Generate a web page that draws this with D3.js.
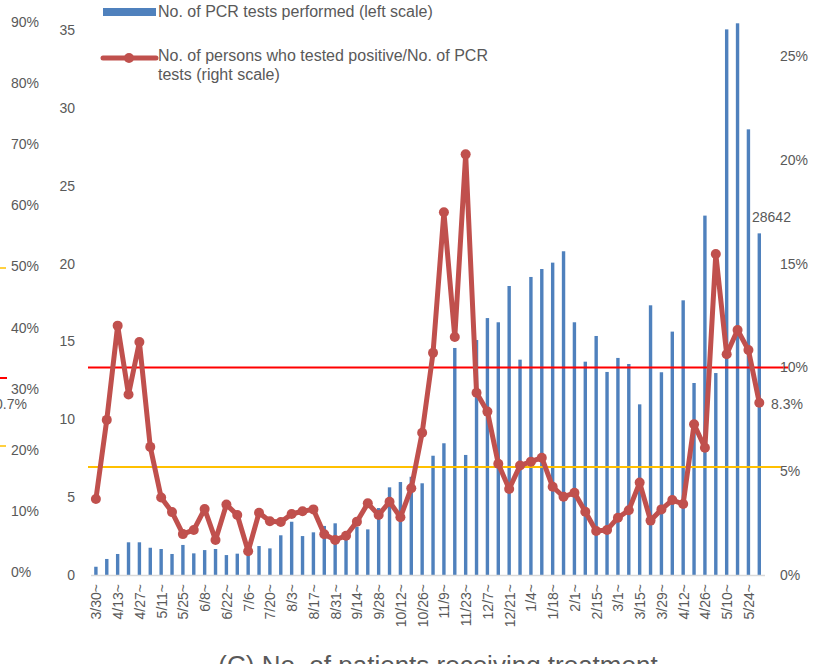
<!DOCTYPE html>
<html>
<head>
<meta charset="utf-8">
<script src="https://cdn.jsdelivr.net/npm/d3@7"></script>
<style>
  body { margin: 0; background: #fff; }
  svg { display: block; font-family: "Liberation Sans", Arial, sans-serif; }
</style>
</head>
<body>
<svg id="chart" width="813" height="664"></svg>
<script>
// weekly periods (week starting)
const weeks = ['3/30', '4/6', '4/13', '4/20', '4/27', '5/4', '5/11', '5/18', '5/25', '6/1',
  '6/8', '6/15', '6/22', '6/29', '7/6', '7/13', '7/20', '7/27', '8/3', '8/10',
  '8/17', '8/24', '8/31', '9/7', '9/14', '9/21', '9/28', '10/5', '10/12', '10/19',
  '10/26', '11/2', '11/9', '11/16', '11/23', '11/30', '12/7', '12/14', '12/21', '12/28',
  '1/4', '1/11', '1/18', '1/25', '2/1', '2/8', '2/15', '2/22', '3/1', '3/8',
  '3/15', '3/22', '3/29', '4/5', '4/12', '4/19', '4/26', '5/3', '5/10', '5/17',
  '5/24', '5/31'];

// PCR tests performed (thousands, left scale)
const tests = [0.53, 1.03, 1.35, 2.1, 2.1, 1.75, 1.67, 1.35, 1.93, 1.39,
  1.6, 1.67, 1.28, 1.37, 1.6, 1.86, 1.71, 2.55, 3.42, 2.5,
  2.74, 3.15, 3.32, 2.8, 3.1, 2.93, 4.3, 5.63, 5.97, 6.31,
  5.89, 7.66, 8.46, 14.58, 7.71, 15.09, 16.5, 16.23, 18.56, 13.83,
  19.14, 19.65, 20.06, 20.79, 16.23, 13.7, 15.35, 13.04, 13.94, 13.55,
  10.96, 17.32, 13.02, 15.63, 17.64, 12.33, 23.08, 12.97, 35.04, 35.43,
  28.62, 21.94];

// positives / PCR tests (right scale)
const positiveRate = [3.66, 7.47, 12.01, 8.69, 11.22, 6.17, 3.73, 3.03, 1.97, 2.17,
  3.18, 1.69, 3.39, 2.89, 1.14, 3.0, 2.59, 2.55, 2.94, 3.07,
  3.16, 1.96, 1.69, 1.89, 2.57, 3.45, 2.89, 3.53, 2.78, 4.18,
  6.85, 10.7, 17.47, 11.46, 20.26, 8.78, 7.87, 5.36, 4.14, 5.27,
  5.46, 5.65, 4.25, 3.77, 3.96, 3.05, 2.12, 2.17, 2.76, 3.12,
  4.45, 2.62, 3.16, 3.61, 3.42, 7.26, 6.13, 15.46, 10.63, 11.8,
  10.84, 8.3].map(d => d / 100);

const leftTicks = [0, 5, 10, 15, 20, 25, 30, 35];
const rightTicks = [0, 0.05, 0.10, 0.15, 0.20, 0.25];
const refLines = [0.10, 0.052];
// axis of the neighbouring chart, cut at the left edge
const sideTicks = [0, 0.1, 0.2, 0.3, 0.4, 0.5, 0.6, 0.7, 0.8, 0.9];

const svg = d3.select('#chart');
const textColor = '#595959';

const x = d3.scalePoint().domain(weeks).range([95.9, 759.3]);
const yL = d3.scaleLinear().domain([0, 35]).range([575, 30]);
const yR = d3.scaleLinear().domain([0, 0.2625]).range([575, 30]);
const yS = d3.scaleLinear().domain([0, 0.9]).range([572, 22]);

// neighbouring chart remnants
const side = svg.append('g')
  .attr('transform', 'translate(8,0)')
  .call(d3.axisRight(yS).tickValues(sideTicks).tickSize(0).tickPadding(3).tickFormat(d3.format('.0%')));
side.select('.domain').remove();
side.selectAll('text').attr('fill', textColor).style('font-size', '14px');
svg.append('line').attr('x1', 0).attr('x2', 6).attr('y1', 268).attr('y2', 268)
  .attr('stroke', '#ffc000').attr('stroke-width', 1.5);
svg.append('line').attr('x1', 0).attr('x2', 7).attr('y1', 378).attr('y2', 378)
  .attr('stroke', '#ff0000').attr('stroke-width', 2);
svg.append('line').attr('x1', 0).attr('x2', 6).attr('y1', 446).attr('y2', 446)
  .attr('stroke', '#ffc000').attr('stroke-width', 1.5);
svg.append('text').attr('x', 27).attr('y', 409).attr('text-anchor', 'end')
  .attr('fill', textColor).style('font-size', '14px').text('10.7%');

// bars
svg.append('g').selectAll('rect')
  .data(tests)
  .enter().append('rect')
  .attr('fill', '#4f81bd')
  .attr('x', (d, i) => x(weeks[i]) - 1.7)
  .attr('width', 3.4)
  .attr('y', d => yL(d))
  .attr('height', d => yL(0) - yL(d));

// x axis line
svg.append('line')
  .attr('x1', 91).attr('x2', 765)
  .attr('y1', 575.5).attr('y2', 575.5)
  .attr('stroke', '#d9d9d9').attr('stroke-width', 1.5);

// reference lines
svg.append('line')
  .attr('x1', 88).attr('x2', 788)
  .attr('y1', yR(refLines[0])).attr('y2', yR(refLines[0]))
  .attr('stroke', '#ff0000').attr('stroke-width', 2);
svg.append('line')
  .attr('x1', 88).attr('x2', 782)
  .attr('y1', yR(refLines[1])).attr('y2', yR(refLines[1]))
  .attr('stroke', '#ffc000').attr('stroke-width', 2);

// positive rate line
const line = d3.line()
  .x((d, i) => x(weeks[i]))
  .y(d => yR(d));

svg.append('path')
  .datum(positiveRate)
  .attr('fill', 'none')
  .attr('stroke', '#c0504d')
  .attr('stroke-width', 5)
  .attr('stroke-linejoin', 'round')
  .attr('d', line);

svg.append('g').selectAll('circle')
  .data(positiveRate)
  .enter().append('circle')
  .attr('cx', (d, i) => x(weeks[i]))
  .attr('cy', d => yR(d))
  .attr('r', 5)
  .attr('fill', '#c0504d');

// axes
const gL = svg.append('g')
  .attr('transform', 'translate(78,0)')
  .call(d3.axisLeft(yL).tickValues(leftTicks).tickSize(0).tickPadding(3));
gL.select('.domain').remove();
gL.selectAll('text').attr('fill', textColor).style('font-size', '14px');

const gR = svg.append('g')
  .attr('transform', 'translate(777,0)')
  .call(d3.axisRight(yR).tickValues(rightTicks).tickSize(0).tickPadding(3).tickFormat(d3.format('.0%')));
gR.select('.domain').remove();
gR.selectAll('text').attr('fill', textColor).style('font-size', '14px');

const gX = svg.append('g')
  .attr('transform', 'translate(0,584)')
  .call(d3.axisBottom(x).tickValues(weeks.filter((d, i) => i % 2 === 0)).tickSize(0).tickFormat(d => d + '~'));
gX.select('.domain').remove();
gX.selectAll('text')
  .attr('fill', textColor)
  .style('font-size', '14px')
  .attr('text-anchor', 'end')
  .attr('transform', 'rotate(-90)')
  .attr('x', 0)
  .attr('y', 0)
  .attr('dy', '0.35em');

// data labels
svg.append('text').attr('x', 752).attr('y', 222)
  .attr('fill', textColor).style('font-size', '14px').text('28642');
svg.append('text').attr('x', 771).attr('y', 409)
  .attr('fill', textColor).style('font-size', '14px')
  .text(d3.format('.1%')(positiveRate[positiveRate.length - 1]));

// legend
svg.append('rect').attr('x', 103).attr('y', 8).attr('width', 53).attr('height', 8).attr('fill', '#4f81bd');
svg.append('text').attr('x', 158).attr('y', 17).attr('fill', textColor).style('font-size', '16px')
  .text('No. of PCR tests performed (left scale)');
svg.append('line').attr('x1', 103).attr('x2', 156).attr('y1', 58).attr('y2', 58)
  .attr('stroke', '#c0504d').attr('stroke-width', 5).attr('stroke-linecap', 'round');
svg.append('circle').attr('cx', 129).attr('cy', 58).attr('r', 5).attr('fill', '#c0504d');
svg.append('text').attr('x', 158).attr('y', 61).attr('fill', textColor).style('font-size', '16px')
  .text('No. of persons who tested positive/No. of PCR');
svg.append('text').attr('x', 158).attr('y', 80).attr('fill', textColor).style('font-size', '16px')
  .text('tests (right scale)');

// caption of the next panel, cut at the bottom edge
svg.append('text').attr('x', 438).attr('y', 674).attr('text-anchor', 'middle')
  .attr('fill', textColor).style('font-size', '26px')
  .text('(C) No. of patients receiving treatment');
</script>
</body>
</html>
